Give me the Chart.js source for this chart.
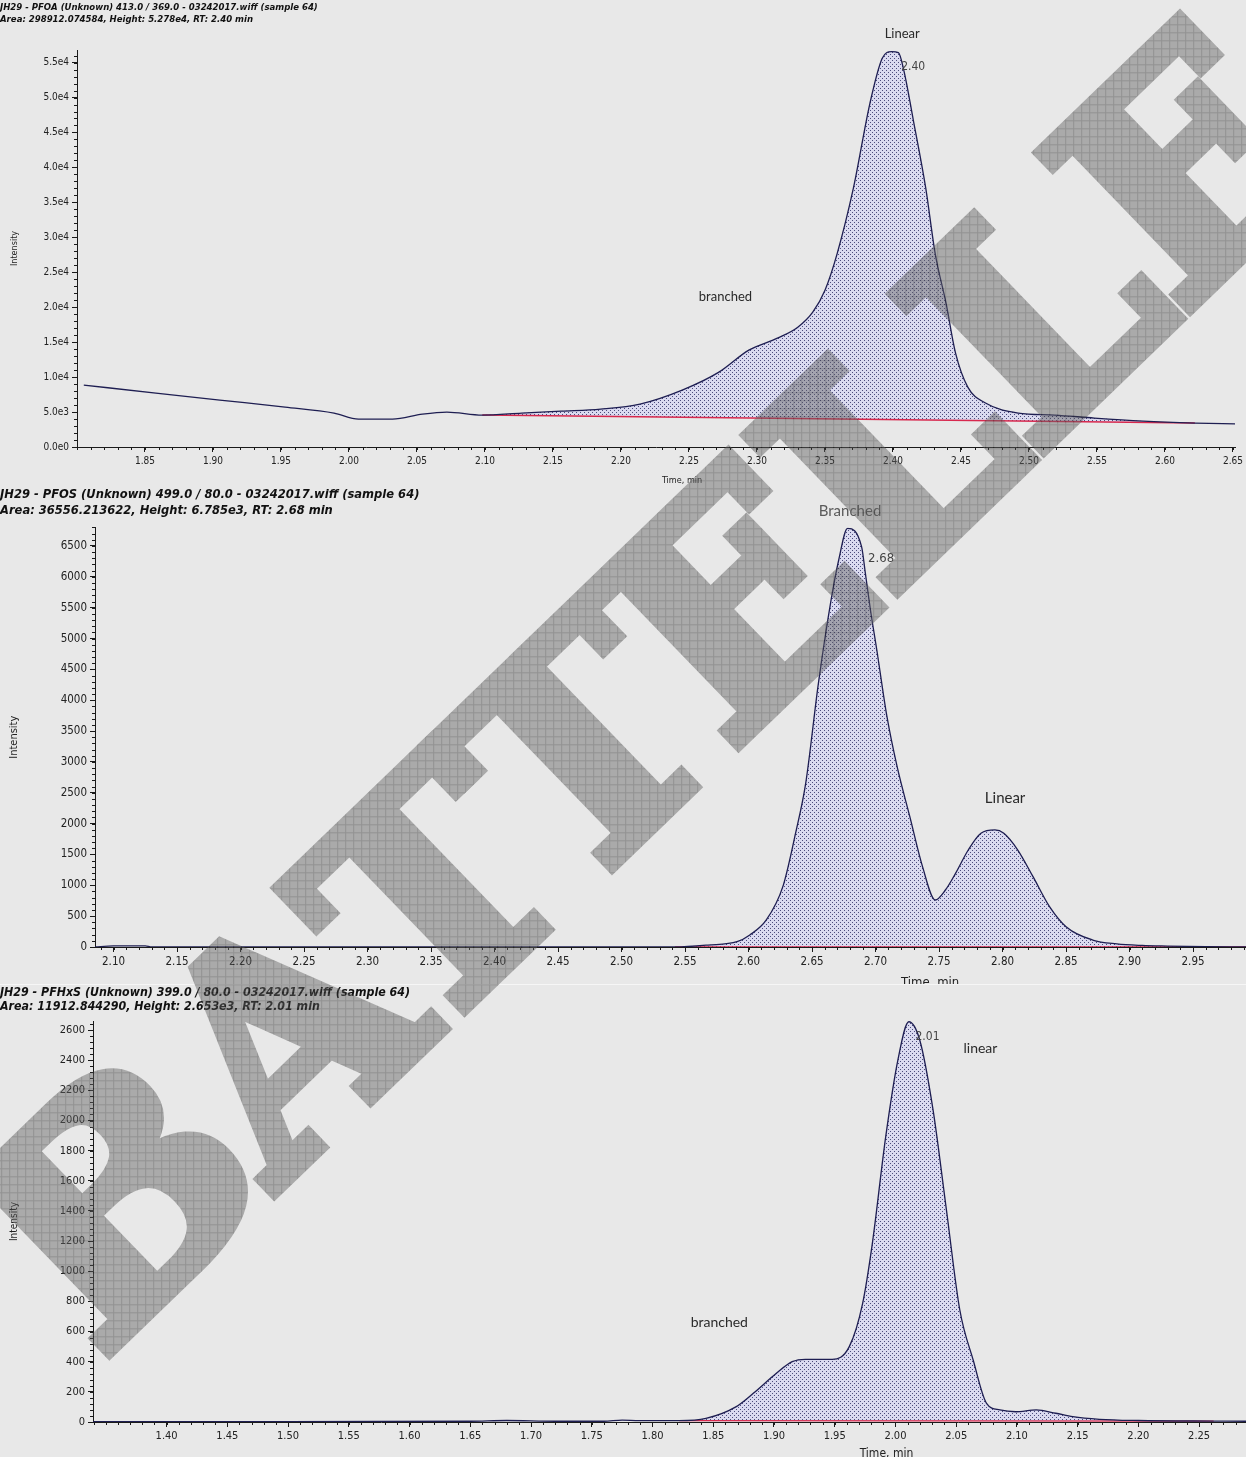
<!DOCTYPE html>
<html><head><meta charset="utf-8">
<script src="https://cdn.jsdelivr.net/npm/chart.js@4.4.1/dist/chart.umd.min.js"></script>
<style>
html,body{margin:0;padding:0;background:#e8e8e8;}
body{width:1246px;height:1457px;position:relative;overflow:hidden;}
.panel{position:absolute;left:0;width:1246px;overflow:hidden;}
.panel canvas{display:block;}
#wm{position:absolute;left:0;top:0;pointer-events:none;}
</style></head><body>
<div class="panel" style="top:0;height:486px"><canvas id="c1" width="1246" height="486" style="width:1246px;height:486px"></canvas></div>
<div class="panel" style="top:486px;height:498px;border-bottom:1px solid #f6f6f6"><canvas id="c2" width="1246" height="510" style="width:1246px;height:510px"></canvas></div>
<div class="panel" style="top:985px;height:472px"><canvas id="c3" width="1246" height="480" style="width:1246px;height:480px"></canvas></div>
<svg id="wm" width="1246" height="1457" xmlns="http://www.w3.org/2000/svg">
  <defs>
    <pattern id="grid" width="8" height="8" patternUnits="userSpaceOnUse" patternTransform="rotate(44)">
      <rect width="8" height="8" fill="#626262"/>
      <path d="M0 .5H8M.5 0V8" stroke="#2e2e2e" stroke-width="1" fill="none"/>
    </pattern>
  </defs>
  <g opacity="0.46">
    <text x="645" y="792" transform="rotate(-44 645 685)" text-anchor="middle"
      font-family="DejaVu Serif" font-weight="bold" font-size="295" letter-spacing="-4"
      fill="url(#grid)" stroke="url(#grid)" stroke-width="14" stroke-linejoin="miter">BATTELLE</text>
  </g>
</svg>
<script>
// ---------- DATA ----------
// Panel 1: PFOA
const pfoaTitle = ['JH29 - PFOA (Unknown) 413.0 / 369.0 - 03242017.wiff (sample 64)',
                   'Area: 298912.074584, Height: 5.278e4, RT: 2.40 min'];
const pfoaTime = [1.805,1.858,1.905,1.953,1.989,2.007,2.032,2.054,2.072,2.098,2.127,2.156,2.185,2.214,2.245,2.272,2.294,2.315,2.330,2.341,2.350,2.359,2.371,2.383,2.392,2.399,2.404,2.408,2.415,2.424,2.431,2.439,2.446,2.455,2.468,2.492,2.519,2.548,2.584,2.622,2.653];
const pfoaIntensity = [8860,7710,6710,5710,4860,4000,4000,4710,5000,4570,4860,5140,5430,6140,8140,10710,13860,15570,17140,19290,22430,27710,37140,49140,55570,56570,56430,53860,46710,37140,27710,20570,13430,8570,6290,4860,4570,4140,3710,3430,3290];
const pfoaBaseTime = [2.098,2.622];
const pfoaBaseIntensity = [4570,3430];
const pfoaXTickLabels = ['1.85','1.90','1.95','2.00','2.05','2.10','2.15','2.20','2.25','2.30','2.35','2.40','2.45','2.50','2.55','2.60','2.65'];
const pfoaYTickLabels = ['0.0e0','5.0e3','1.0e4','1.5e4','2.0e4','2.5e4','3.0e4','3.5e4','4.0e4','4.5e4','5.0e4','5.5e4'];
const pfoaLabels = [
  {text:'Linear', x:2.4068, y:59140, kind:'name'},
  {text:'2.40', x:2.406, y:54430, kind:'rt'},
  {text:'branched', x:2.2768, y:21430, kind:'name'}
];

// Panel 2: PFOS
const pfosTitle = ['JH29 - PFOS (Unknown) 499.0 / 80.0 - 03242017.wiff (sample 64)',
                   'Area: 36556.213622, Height: 6.785e3, RT: 2.68 min'];
const pfosTime = [2.085,2.100,2.125,2.130,2.542,2.568,2.591,2.601,2.614,2.627,2.637,2.645,2.655,2.665,2.671,2.678,2.689,2.692,2.696,2.701,2.709,2.717,2.727,2.737,2.747,2.755,2.763,2.773,2.783,2.794,2.801,2.812,2.824,2.837,2.850,2.871,2.890,2.910,2.930,2.960,2.992];
const pfosIntensity = [0,18,18,0,0,32,86,195,438,978,1843,2653,4274,5625,6273,6785,6489,6057,5463,4814,3733,2923,2112,1302,762,924,1194,1572,1843,1897,1843,1572,1140,654,329,113,50,25,15,5,0];
const pfosBaseTime = [2.542,2.992];
const pfosBaseIntensity = [0,0];
const pfosXTickLabels = ['2.10','2.15','2.20','2.25','2.30','2.35','2.40','2.45','2.50','2.55','2.60','2.65','2.70','2.75','2.80','2.85','2.90','2.95'];
const pfosYTickLabels = ['0','500','1000','1500','2000','2500','3000','3500','4000','4500','5000','5500','6000','6500'];
const pfosLabels = [
  {text:'Branched', x:2.6799, y:7068, kind:'name', color:'#5a5a5a'},
  {text:'2.68', x:2.6941, y:6290, kind:'rt'},
  {text:'Linear', x:2.802, y:2415, kind:'name'}
];

// Panel 3: PFHxS
const pfhxsTitle = ['JH29 - PFHxS (Unknown) 399.0 / 80.0 - 03242017.wiff (sample 64)',
                    'Area: 11912.844290, Height: 2.653e3, RT: 2.01 min'];
const pfhxsTime = [1.339,1.50,1.65,1.68,1.72,1.76,1.775,1.789,1.822,1.844,1.869,1.883,1.902,1.915,1.926,1.948,1.962,1.973,1.981,1.992,2.002,2.011,2.020,2.031,2.042,2.053,2.064,2.075,2.086,2.099,2.116,2.132,2.146,2.168,2.200,2.262,2.289];
const pfhxsIntensity = [3,3,5,10,5,5,12,9,9,24,102,190,323,400,416,416,500,787,1185,1893,2401,2655,2534,2069,1406,743,411,124,80,68,80,58,35,18,10,6,5];
const pfhxsBaseTime = [1.822,2.262];
const pfhxsBaseIntensity = [9,6];
const pfhxsXTickLabels = ['1.40','1.45','1.50','1.55','1.60','1.65','1.70','1.75','1.80','1.85','1.90','1.95','2.00','2.05','2.10','2.15','2.20','2.25'];
const pfhxsYTickLabels = ['0','200','400','600','800','1000','1200','1400','1600','1800','2000','2200','2400','2600'];
const pfhxsLabels = [
  {text:'2.01', x:2.0165, y:2554, kind:'rt'},
  {text:'linear', x:2.07, y:2481, kind:'name'},
  {text:'branched', x:1.855, y:663, kind:'name'}
];

// ---------- STYLE ----------
const NARROW = "'Liberation Sans Narrow','DejaVu Sans Condensed','Arial Narrow',sans-serif";
const LABELF = "Lato,'Open Sans',sans-serif";
const LINE = '#1e1e52', RED = '#d8284e', AXIS = '#1a1a1a';

function dotPattern(){
  const c = document.createElement('canvas'); c.width = 4; c.height = 4;
  const g = c.getContext('2d');
  g.fillStyle = '#dadaf0'; g.fillRect(0,0,4,4);
  g.fillStyle = '#4c4c7c'; g.fillRect(0,0,1,1); g.fillRect(2,2,1,1);
  return g.createPattern(c, 'repeat');
}
const PATTERN = dotPattern();

const minorTicks = {
  id: 'minorTicks',
  afterDraw(chart, args, o){
    const {ctx} = chart, x = chart.scales.x, y = chart.scales.y;
    ctx.save(); ctx.strokeStyle = AXIS; ctx.lineWidth = 1; ctx.beginPath();
    for (let k = Math.ceil(x.min / o.xStep); k * o.xStep <= x.max; k++){
      const px = Math.round(x.getPixelForValue(k * o.xStep)) + 0.5;
      ctx.moveTo(px, y.bottom); ctx.lineTo(px, y.bottom + 3);
    }
    for (let k = 0; k * o.yStep <= y.max; k++){
      const py = Math.round(y.getPixelForValue(k * o.yStep)) + 0.5;
      ctx.moveTo(x.left, py); ctx.lineTo(x.left - 3, py);
    }
    ctx.stroke(); ctx.restore();
  }
};

const peakLabels = {
  id: 'peakLabels',
  afterDraw(chart, args, o){
    const {ctx} = chart, x = chart.scales.x, y = chart.scales.y;
    ctx.save(); ctx.textBaseline = 'middle';
    (o.items || []).forEach(it => {
      const px = x.getPixelForValue(it.x), py = y.getPixelForValue(it.y);
      if (it.kind === 'rt'){
        ctx.font = o.rtSize + 'px ' + NARROW; ctx.fillStyle = it.color || '#444'; ctx.textAlign = 'left';
      } else {
        ctx.font = o.nameSize + 'px ' + LABELF; ctx.fillStyle = it.color || '#2a2a2a'; ctx.textAlign = 'center';
      }
      ctx.fillText(it.text, px, py);
    });
    ctx.font = o.xTitleSize + 'px ' + NARROW; ctx.fillStyle = '#222'; ctx.textAlign = 'center';
    ctx.fillText('Time, min', x.getPixelForValue(o.xTitleAt), y.bottom + o.xTitleOffset);
    ctx.restore();
  }
};

function buildChart(id, p){
  const curve = p.time.map((t,i) => ({x:t, y:p.intensity[i]}));
  const base = p.baseTime.map((t,i) => ({x:t, y:p.baseIntensity[i]}));
  const area = curve.filter(d => d.x >= p.baseTime[0] - 1e-9 && d.x <= p.baseTime[1] + 1e-9);
  const xTicks = p.xTickLabels.map(Number);
  const yTicks = p.yTickLabels.map(Number);
  return new Chart(document.getElementById(id), {
    type: 'line',
    data: { datasets: [
      {data: curve, borderColor: LINE, borderWidth: 1.3, pointRadius: 0, fill: false, order: 0, cubicInterpolationMode: 'monotone'},
      {data: base, borderColor: RED, borderWidth: 1.4, pointRadius: 0, fill: false, order: 1},
      {data: area, borderWidth: 0, borderColor: 'rgba(0,0,0,0)', pointRadius: 0, fill: 1, backgroundColor: PATTERN, order: 2, cubicInterpolationMode: 'monotone'}
    ]},
    options: {
      responsive: false, animation: false, events: [],
      layout: {autoPadding: false, padding: 0},
      plugins: {
        legend: {display: false}, tooltip: {enabled: false},
        title: {display: true, text: p.title, align: 'start', color: '#111',
          font: {family: NARROW, size: p.titleSize, weight: 'bold', style: 'italic', lineHeight: p.titleLH},
          padding: {top: p.titleTop, bottom: p.titleBottom}},
        minorTicks: {xStep: 0.01, yStep: p.yMinor},
        peakLabels: {items: p.labels, rtSize: p.rtSize, nameSize: p.nameSize, xTitleAt: p.xTitleAt, xTitleSize: p.xTitleSize, xTitleOffset: p.xTitleOffset}
      },
      scales: {
        x: {type: 'linear', min: p.xMin, max: p.xMax,
          afterBuildTicks: s => { s.ticks = xTicks.map(v => ({value: v})); },
          afterFit: s => { s.height = p.xHeight; },
          ticks: {autoSkip: false, maxRotation: 0, color: '#222', padding: p.xPad,
            font: {family: NARROW, size: p.tickSize},
            callback: (v, i) => p.xTickLabels[i]},
          grid: {drawOnChartArea: false, drawTicks: true, tickLength: 5, tickColor: AXIS, color: AXIS},
          border: {display: true, color: AXIS, width: 1}
        },
        y: {type: 'linear', min: 0, max: p.yMax,
          afterBuildTicks: s => { s.ticks = yTicks.map(v => ({value: v})); },
          afterFit: s => { s.width = p.yWidth; },
          ticks: {color: '#222', padding: 3, font: {family: NARROW, size: p.tickSize},
            callback: (v, i) => p.yTickLabels[i]},
          grid: {drawOnChartArea: false, drawTicks: true, tickLength: 5, tickColor: AXIS, color: AXIS},
          border: {display: true, color: AXIS, width: 1},
          title: {display: true, text: 'Intensity', color: '#222', font: {family: NARROW, size: p.yTitleSize, lineHeight: 1.2},
            padding: {top: p.yTitlePad, bottom: 0}}
        }
      }
    },
    plugins: [minorTicks, peakLabels]
  });
}

buildChart('c1', {title: pfoaTitle, time: pfoaTime, intensity: pfoaIntensity, baseTime: pfoaBaseTime, baseIntensity: pfoaBaseIntensity,
  xTickLabels: pfoaXTickLabels, yTickLabels: pfoaYTickLabels, labels: pfoaLabels,
  xMin: 1.8, xMax: 2.6515, yMax: 56800, yMinor: 1000,
  titleSize: 9.5, titleLH: 1.3, titleTop: 1, titleBottom: 24.3,
  xHeight: 39, yWidth: 77, xPad: 3, tickSize: 10, yTitleSize: 9, yTitlePad: 9.6,
  rtSize: 12, nameSize: 13, xTitleAt: 2.2449, xTitleSize: 9, xTitleOffset: 34});

buildChart('c2', {title: pfosTitle, time: pfosTime, intensity: pfosIntensity, baseTime: pfosBaseTime, baseIntensity: pfosBaseIntensity,
  xTickLabels: pfosXTickLabels, yTickLabels: pfosYTickLabels, labels: pfosLabels,
  xMin: 2.0854, xMax: 2.9917, yMax: 6800, yMinor: 100,
  titleSize: 12.8, titleLH: 1.3, titleTop: 0, titleBottom: 8.2,
  xHeight: 49, yWidth: 95, xPad: 3, tickSize: 11.5, yTitleSize: 11, yTitlePad: 7.4,
  rtSize: 13, nameSize: 15, xTitleAt: 2.743, xTitleSize: 13, xTitleOffset: 36});

buildChart('c3', {title: pfhxsTitle, time: pfhxsTime, intensity: pfhxsIntensity, baseTime: pfhxsBaseTime, baseIntensity: pfhxsBaseIntensity,
  xTickLabels: pfhxsXTickLabels, yTickLabels: pfhxsYTickLabels, labels: pfhxsLabels,
  xMin: 1.3394, xMax: 2.2886, yMax: 2660, yMinor: 40,
  titleSize: 12.3, titleLH: 1.2, titleTop: 0, titleBottom: 6.5,
  xHeight: 43, yWidth: 93, xPad: 3, tickSize: 11, yTitleSize: 10, yTitlePad: 8,
  rtSize: 12, nameSize: 14, xTitleAt: 1.9926, xTitleSize: 12, xTitleOffset: 32});
</script>
</body></html>
